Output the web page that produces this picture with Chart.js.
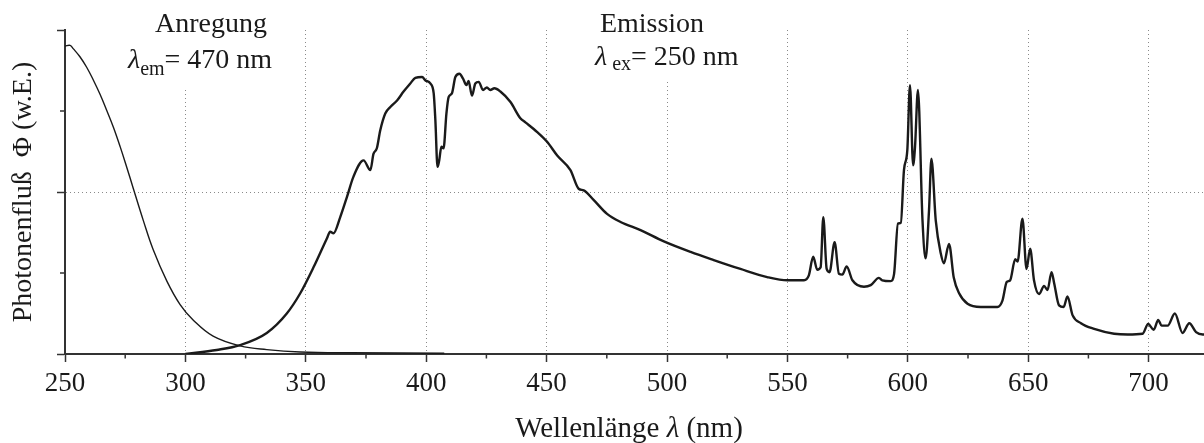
<!DOCTYPE html>
<html>
<head>
<meta charset="utf-8">
<script src="https://cdn.jsdelivr.net/npm/chart.js@4"></script>
<style>
  html, body { margin: 0; padding: 0; background: #fff; overflow: hidden; }
  #wrap { width: 1204px; height: 443px; }
</style>
</head>
<body>
<div id="wrap"><canvas id="chart1"></canvas></div>
<script>
// excitation spectrum (Anregung, lambda_em = 470 nm)
const excitationNm = [250, 252.1, 253.4, 256.2, 259, 261.8, 264.5, 267.3, 270.1, 272.9, 275.7, 278.3,
  282.5, 286.6, 292.3, 297.8, 303.2, 311.5, 322.7, 333.8, 347.7, 368.5, 407.5];
const excitationVal = [3.80, 3.81, 3.77, 3.67, 3.54, 3.38, 3.21, 3.01, 2.80, 2.56, 2.30, 2.05,
  1.65, 1.29, 0.90, 0.61, 0.42, 0.22, 0.10, 0.054, 0.025, 0.015, 0.01];

// emission spectrum (Emission, lambda_ex = 250 nm)
const emissionNm = [300, 313, 322.7, 333.8, 342.1, 347.7, 353.2, 358.8, 360.1, 361.5,
  364.3, 367.1, 369.8, 374, 376.8, 378.1, 379.5, 380.9, 383, 385.1,
  387.9, 390.6, 393.4, 395.5, 398.3, 399.6, 401.7, 403.1, 403.8, 404.7,
  405.4, 406.3, 407.2, 408.4, 409.3, 410.7, 412.1, 413.8, 415.3, 416.7,
  417.6, 419, 420.4, 421.8, 423.6, 425.2, 426.6, 428.3, 430.8, 435,
  439.1, 441.2, 446.1, 450.2, 454.4, 459.9, 463.3, 465.4, 469.6, 475.1,
  480.7, 489, 498.7, 509.8, 519.4, 530.5, 541.6, 550, 556.9, 558.9,
  560.7, 562.4, 563.8, 564.9, 566.3, 567.5, 569.6, 571.4, 572.8, 574.6,
  577, 581.8, 584.6, 588, 589.4, 592.9, 594.3, 595.9, 597.1, 598.4,
  599.8, 600.9, 602.2, 603, 604.2, 606.1, 607.4, 608.8, 609.8, 611.6,
  613.7, 615, 617.1, 619.1, 621.3, 624.8, 630.3, 637.2, 639.3, 641.1,
  642.5, 644.6, 645.6, 647.6, 649.3, 650.8, 652.4, 654.5, 656.6, 658,
  659.7, 660.8, 662.8, 664.7, 666.3, 668.4, 671.9, 677.4, 685.7, 691.3,
  697.5, 699.8, 702.1, 704, 705.4, 707.9, 710.9, 714.1, 716.9, 719.7,
  722.5, 724];
const emissionVal = [0, 0.05, 0.11, 0.26, 0.50, 0.75, 1.07, 1.43, 1.51, 1.49,
  1.69, 1.94, 2.19, 2.39, 2.27, 2.47, 2.54, 2.76, 2.97, 3.05,
  3.13, 3.24, 3.34, 3.41, 3.42, 3.38, 3.34, 3.22, 2.89, 2.31,
  2.39, 2.56, 2.54, 2.97, 3.17, 3.22, 3.42, 3.46, 3.40, 3.32,
  3.37, 3.19, 3.34, 3.36, 3.26, 3.29, 3.26, 3.28, 3.24, 3.11,
  2.91, 2.86, 2.74, 2.62, 2.45, 2.27, 2.04, 2.02, 1.90, 1.73,
  1.63, 1.53, 1.39, 1.26, 1.16, 1.05, 0.95, 0.91, 0.91, 0.97,
  1.20, 1.04, 1.07, 1.69, 1.05, 1.01, 1.38, 0.99, 0.98, 1.08,
  0.91, 0.83, 0.85, 0.94, 0.91, 0.90, 0.99, 1.61, 1.62, 2.27,
  2.52, 3.32, 2.33, 2.56, 3.26, 1.65, 1.18, 1.77, 2.41, 1.65,
  1.24, 1.12, 1.36, 0.94, 0.75, 0.62, 0.58, 0.58, 0.66, 0.89,
  0.91, 1.17, 1.14, 1.67, 1.05, 1.30, 0.91, 0.74, 0.84, 0.79,
  1.01, 0.87, 0.60, 0.58, 0.71, 0.48, 0.38, 0.31, 0.25, 0.24,
  0.25, 0.37, 0.30, 0.42, 0.35, 0.35, 0.50, 0.26, 0.38, 0.27,
  0.24, 0.24];

// ticks
const xTicks = [250, 300, 350, 400, 450, 500, 550, 600, 650, 700];
const xMinorTicks = [275, 325, 375, 425, 475, 525, 575, 625, 675];
const yTicks = [0, 2, 4];
const yMinorTicks = [1, 3];

const SERIF = "'Liberation Serif', 'Times New Roman', serif";
const INK = '#1a1a1a';
const AXIS = '#333';
const GRID = '#8a8a8a';

const toPoints = (xs, ys) => xs.map((v, k) => ({ x: v, y: ys[k] }));

// draws a line of text made of runs with different fonts
function drawRuns(ctx, runs, x, y, align) {
  let total = 0;
  runs.forEach(r => { ctx.font = r.font; r.w = ctx.measureText(r.text).width; total += r.w; });
  let cx = align === 'center' ? x - total / 2 : x;
  runs.forEach(r => {
    ctx.font = r.font;
    ctx.fillText(r.text, cx, y + (r.dy || 0));
    cx += r.w;
  });
}

const f = (size, style) => (style ? style + ' ' : '') + size + 'px ' + SERIF;

const decor = {
  id: 'decor',
  beforeDatasetsDraw(chart) {
    const ctx = chart.ctx;
    ctx.save();
    // labels sit on white boxes that hide the grid
    ctx.fillStyle = '#fff';
    ctx.fillRect(120, 0, 160, 87);
    ctx.fillRect(588, 0, 158, 82);
    ctx.fillStyle = INK;
    ctx.textBaseline = 'alphabetic';
    drawRuns(ctx, [{ text: 'Anregung', font: f(28) }], 211, 32, 'center');
    drawRuns(ctx, [
      { text: 'λ', font: f(28, 'italic') },
      { text: 'em', font: f(20), dy: 7 },
      { text: '= 470 nm', font: f(28) }
    ], 128, 68, 'left');
    drawRuns(ctx, [{ text: 'Emission', font: f(28) }], 652, 32, 'center');
    drawRuns(ctx, [
      { text: 'λ', font: f(28, 'italic') },
      { text: ' ex', font: f(20), dy: 5 },
      { text: '= 250 nm', font: f(28) }
    ], 595, 65, 'left');
    ctx.restore();
  },
  afterDraw(chart) {
    const { ctx, chartArea, scales: { x, y } } = chart;
    ctx.save();
    ctx.strokeStyle = AXIS;
    ctx.lineWidth = 1.5;
    ctx.beginPath();
    xMinorTicks.forEach(v => {
      const px = x.getPixelForValue(v);
      ctx.moveTo(px, chartArea.bottom);
      ctx.lineTo(px, chartArea.bottom + 4.5);
    });
    yMinorTicks.forEach(v => {
      const py = y.getPixelForValue(v);
      ctx.moveTo(chartArea.left, py);
      ctx.lineTo(chartArea.left - 5, py);
    });
    ctx.stroke();
    // x axis title with italic lambda
    ctx.fillStyle = INK;
    ctx.textBaseline = 'alphabetic';
    drawRuns(ctx, [
      { text: 'Wellenlänge ', font: f(29) },
      { text: 'λ', font: f(29, 'italic') },
      { text: ' (nm)', font: f(29) }
    ], 629, 437, 'center');
    ctx.restore();
  }
};

Chart.defaults.font.family = SERIF;
Chart.defaults.color = INK;

const ctx = document.getElementById('chart1');

new Chart(ctx, {
  type: 'line',
  data: {
    datasets: [{
      label: 'Anregung',
      data: toPoints(excitationNm, excitationVal),
      borderColor: INK,
      borderWidth: 1.4,
      pointRadius: 0,
      tension: 0.4
    }, {
      label: 'Emission',
      data: toPoints(emissionNm, emissionVal),
      borderColor: INK,
      borderWidth: 2.4,
      pointRadius: 0,
      cubicInterpolationMode: 'monotone'
    }]
  },
  options: {
    responsive: true,
    maintainAspectRatio: false,
    animation: false,
    layout: { padding: { top: 30, left: 0, right: 0, bottom: 0 } },
    plugins: { legend: { display: false }, tooltip: { enabled: false } },
    scales: {
      x: {
        type: 'linear',
        min: 250,
        max: 723,
        afterBuildTicks: s => { s.ticks = xTicks.map(v => ({ value: v })); },
        afterFit: s => { s.height = 89; },
        ticks: { font: { size: 27 }, color: INK, padding: 6, maxRotation: 0 },
        grid: {
          color: c => (c.tick && c.tick.value === 250 ? 'transparent' : GRID),
          lineWidth: 1,
          tickColor: AXIS,
          tickWidth: 1.5,
          tickLength: 8
        },
        border: { color: AXIS, width: 2, dash: [1, 3] },
        title: { display: false }
      },
      y: {
        type: 'linear',
        min: 0,
        max: 4,
        afterBuildTicks: s => { s.ticks = yTicks.map(v => ({ value: v })); },
        afterFit: s => { s.width = 65; },
        ticks: { display: false },
        grid: {
          color: c => (c.tick && c.tick.value === 2 ? GRID : 'transparent'),
          lineWidth: 1,
          tickColor: AXIS,
          tickWidth: 1.5,
          tickLength: 8
        },
        border: { color: AXIS, width: 2, dash: [1, 3] },
        title: {
          display: true,
          text: 'Photonenfluß  Φ (w.E.)',
          font: { size: 28 },
          color: INK,
          padding: { top: 7, bottom: 0 }
        }
      }
    }
  },
  plugins: [decor]
});
</script>
</body>
</html>
